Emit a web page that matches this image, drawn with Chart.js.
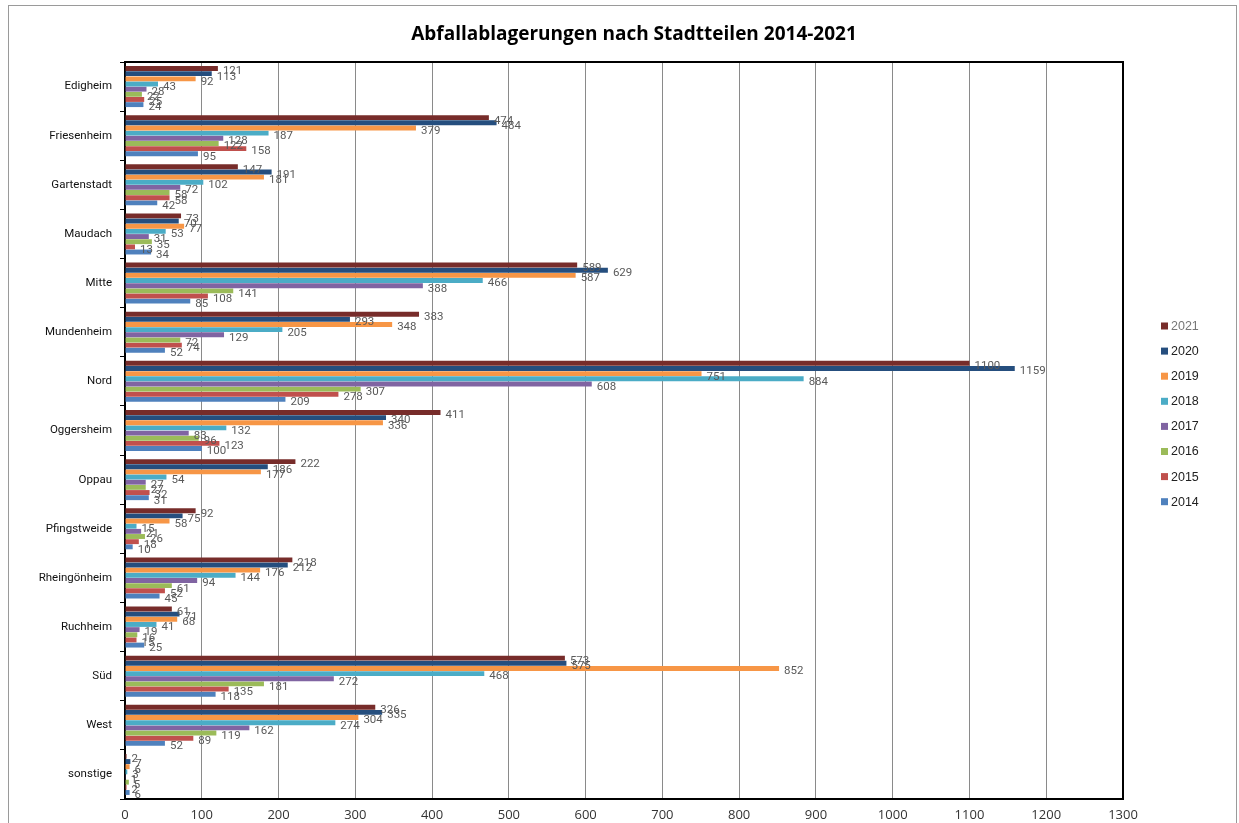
<!DOCTYPE html>
<html>
<head>
<meta charset="utf-8">
<title>Abfallablagerungen nach Stadtteilen 2014-2021</title>
<script src="https://cdn.jsdelivr.net/npm/chart.js@4/dist/chart.umd.min.js"></script>
<style>
  html, body { margin: 0; padding: 0; background: #fff; }
  #wrap { width: 1239px; height: 823px; position: relative; }
</style>
</head>
<body>
<div id="wrap"><canvas id="c" width="1239" height="823"></canvas></div>
<script>
// Stadtteile (categories)
const districts = ['Edigheim', 'Friesenheim', 'Gartenstadt', 'Maudach', 'Mitte', 'Mundenheim', 'Nord',
  'Oggersheim', 'Oppau', 'Pfingstweide', 'Rheingönheim', 'Ruchheim', 'Süd', 'West', 'sonstige'];

// Jahre, newest first
const years = ['2021', '2020', '2019', '2018', '2017', '2016', '2015', '2014'];

// Anzahl Abfallablagerungen je Jahr, in district order
const v2021 = [121, 474, 147, 73, 589, 383, 1100, 411, 222, 92, 218, 61, 573, 326, 2];
const v2020 = [113, 484, 191, 70, 629, 293, 1159, 340, 186, 75, 212, 71, 575, 335, 7];
const v2019 = [92, 379, 181, 77, 587, 348, 751, 336, 177, 58, 176, 68, 852, 304, 6];
const v2018 = [43, 187, 102, 53, 466, 205, 884, 132, 54, 15, 144, 41, 468, 274, 3];
const v2017 = [28, 128, 72, 31, 388, 129, 608, 83, 27, 21, 94, 19, 272, 162, 1];
const v2016 = [22, 122, 58, 35, 141, 72, 307, 96, 27, 26, 61, 16, 181, 119, 5];
const v2015 = [25, 158, 58, 13, 108, 74, 278, 123, 32, 18, 52, 15, 135, 89, 2];
const v2014 = [24, 95, 42, 34, 85, 52, 209, 100, 31, 10, 45, 25, 118, 52, 6];

const xTicks = [0, 100, 200, 300, 400, 500, 600, 700, 800, 900, 1000, 1100, 1200, 1300];

const seriesValues = [v2021, v2020, v2019, v2018, v2017, v2016, v2015, v2014];
const seriesColors = ['#772C2A', '#254E7E', '#F79646', '#4BACC6', '#8064A2', '#9BBB59', '#C0504D', '#4F81BD'];

const titleText = 'Abfallablagerungen nach Stadtteilen 2014-2021';
const narrow = 'Roboto, "Liberation Sans", sans-serif';

// Value labels next to each bar end
const valueLabels = {
  id: 'valueLabels',
  afterDatasetsDraw(chart) {
    const ctx = chart.ctx;
    ctx.save();
    ctx.font = '11.5px ' + narrow;
    ctx.fillStyle = '#595959';
    ctx.textAlign = 'left';
    ctx.textBaseline = 'middle';
    chart.data.datasets.forEach((ds, di) => {
      const meta = chart.getDatasetMeta(di);
      meta.data.forEach((el, i) => {
        ctx.fillText(String(ds.data[i]), el.x + 5, el.y + 3);
      });
    });
    ctx.restore();
  }
};

// Outer frame, title, plot border and legend column
const frame = {
  id: 'frame',
  beforeDraw(chart) {
    const ctx = chart.ctx;
    ctx.save();
    ctx.strokeStyle = '#9a9a9a';
    ctx.lineWidth = 1;
    ctx.strokeRect(8.5, 5.5, 1228, 830);
    ctx.restore();
  },
  afterDraw(chart) {
    const ctx = chart.ctx;
    const a = chart.chartArea;
    ctx.save();
    ctx.strokeStyle = '#000';
    ctx.lineWidth = 2;
    ctx.beginPath();
    ctx.moveTo(a.left, a.top);
    ctx.lineTo(a.right, a.top);
    ctx.lineTo(a.right, a.bottom);
    ctx.stroke();

    // title
    ctx.fillStyle = '#000';
    ctx.font = 'bold 19px "Open Sans", sans-serif';
    ctx.textAlign = 'center';
    ctx.textBaseline = 'middle';
    ctx.fillText(titleText, 634, 35);

    // legend
    ctx.font = '12.5px "Liberation Sans", Arial, sans-serif';
    ctx.textAlign = 'left';
    chart.data.datasets.forEach((ds, i) => {
      const y = 326 + i * 25.1;
      ctx.fillStyle = ds.backgroundColor;
      ctx.fillRect(1161, y - 3.5, 7, 7);
      ctx.fillStyle = i === 0 ? '#777' : '#222';
      ctx.fillText(ds.label, 1171, y + 0.5);
    });
    ctx.restore();
  }
};

new Chart(document.getElementById('c'), {
  type: 'bar',
  data: {
    labels: districts,
    datasets: years.map((y, i) => ({
      label: y,
      data: seriesValues[i],
      backgroundColor: seriesColors[i],
      borderWidth: 0,
      categoryPercentage: 0.84,
      barPercentage: 0.95
    }))
  },
  options: {
    indexAxis: 'y',
    responsive: false,
    animation: false,
    layout: { padding: { left: 0, right: 116, top: 62, bottom: 0 } },
    plugins: {
      legend: { display: false },
      tooltip: { enabled: false },
      title: { display: false }
    },
    scales: {
      x: {
        min: 0,
        max: 1300,
        afterBuildTicks(scale) { scale.ticks = xTicks.map(v => ({ value: v })); },
        afterFit(scale) { scale.height = 24; },
        ticks: {
          color: '#333',
          padding: 10,
          font: { family: '"Open Sans", sans-serif', size: 13, lineHeight: 1 },
          callback: (v) => String(v)
        },
        grid: { color: '#8a8a8a', lineWidth: 1, drawTicks: false },
        border: { color: '#000', width: 2 }
      },
      y: {
        afterFit(scale) { scale.width = 125; },
        ticks: {
          color: '#111',
          padding: 8,
          font: { family: narrow, size: 11.5 }
        },
        grid: { display: true, drawOnChartArea: false, drawTicks: true, tickLength: 5, color: '#000', offset: true },
        border: { color: '#000', width: 2 }
      }
    }
  },
  plugins: [valueLabels, frame]
});
</script>
</body>
</html>
